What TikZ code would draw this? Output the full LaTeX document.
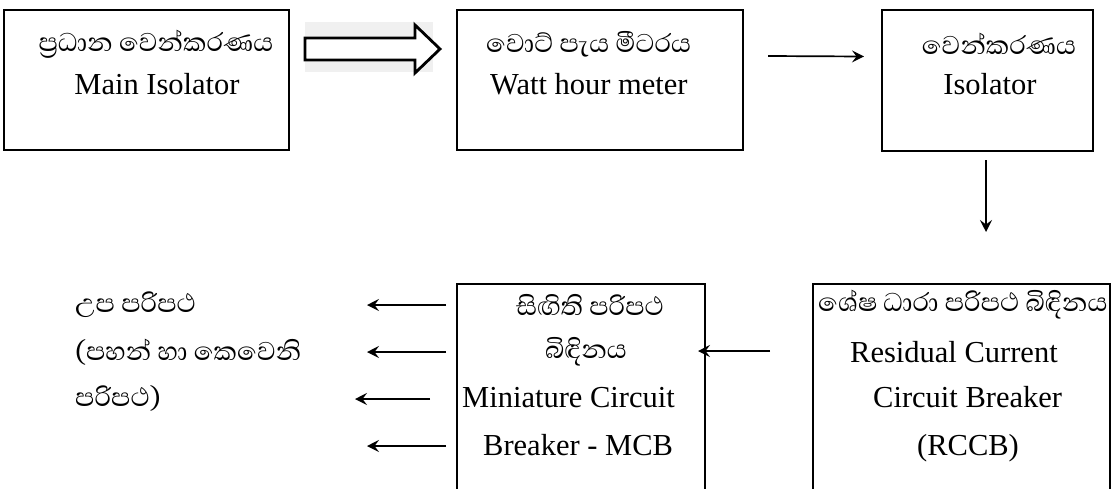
\documentclass[tikz,border=0pt]{standalone}
\usepackage{fontspec}
\setmainfont{Liberation Serif}
\newfontfamily\sinhfont[Script=Sinhala]{Abhaya Libre}
\usetikzlibrary{arrows.meta,calc}
\begin{document}
\begin{tikzpicture}[x=1pt,y=-1pt,
 box/.style={draw, line width=2.5pt, inner sep=0pt, outer sep=0pt},
 si/.style={font=\sinhfont\fontsize{33}{36}\selectfont, inner sep=0pt},
 en/.style={font=\fontsize{30.5}{36}\selectfont, inner sep=0pt, anchor=base west},
 arr/.style={line width=1.7pt, -{Stealth[length=12pt,width=12pt,inset=4.5pt]}}]
\clip (0,0) rectangle (1114,488);
\fill[white] (0,0) rectangle (1114,488);
% top row
\node[box, minimum width=285pt, minimum height=140pt] (b1) at (146.5,80) {};
\node[si] (b1s) at (156,44) {ප්‍රධාන වෙන්කරණය};
\node[en, anchor=base] (b1e) at (157,94) {Main Isolator};
\node[box, minimum width=286pt, minimum height=140pt] (b2) at (600,80) {};
\node[si, anchor=west] (b2s) at (486,44) {වොට් පැය මීටරය};
\node[en] (b2e) at (490,94) {Watt hour meter};
\node[box, minimum width=211pt, minimum height=141pt] (b3) at (987.5,80.5) {};
\node[si] (b3s) at (999,44) {වෙන්කරණය};
\node[en, anchor=base] (b3e) at (990,94) {Isolator};
% block arrow
\fill[gray!12] (305,22) rectangle (433,72);
\draw[line width=2.8pt, fill=white, line join=miter] (305,38) -- (415,38) -- (415,25) -- (440,49) -- (415,73) -- (415,60) -- (305,60) -- cycle;
% thin arrows
\draw[arr] ($(b2.east)+(25,-24)$) -- ($(b3.west)+(-18,-24)$);
\draw[arr] ($(b3.south)+(-1.5,9)$) -- ($(b3.south)+(-1.5,81)$);
% bottom row
\node[box, minimum width=248pt, minimum height=236pt] (mcb) at (581,402) {};
\node[box, minimum width=297pt, minimum height=236pt] (rccb) at (961.5,402) {};
\node[si] (m1) at (590,305) {සිඟිති පරිපථ};
\node[si] (m2) at (586,352) {බිඳිනය};
\node[en] (m3) at (462,407) {Miniature Circuit};
\node[en] (m4) at (483,455) {Breaker - MCB};
\node[si, anchor=west] (r1) at (818,305) {ශේෂ ධාරා පරිපථ බිඳිනය};
\node[en] (r2) at (850,362) {Residual Current};
\node[en] (r3) at (873,407) {Circuit Breaker};
\node[en] (r4) at (917,455) {(RCCB)};
\node[si, anchor=west] (l1) at (75,305) {උප පරිපථ};
\node[si, anchor=west] (l2) at (75,352) {(පහන් හා කෙවෙනි};
\node[si, anchor=west] (l3) at (75,398) {පරිපථ)};
\draw[arr] ($(rccb.west|-0,351)+(-43,0)$) -- ($(mcb.east|-0,351)+(-7,0)$);
\draw[arr] ($(mcb.west|-0,305)+(-11,0)$) -- ++(-79,0);
\draw[arr] ($(mcb.west|-0,352)+(-11,0)$) -- ++(-79,0);
\draw[arr] ($(mcb.west|-0,399)+(-27,0)$) -- ++(-75,0);
\draw[arr] ($(mcb.west|-0,446)+(-11,0)$) -- ++(-79,0);
\end{tikzpicture}
\end{document}
